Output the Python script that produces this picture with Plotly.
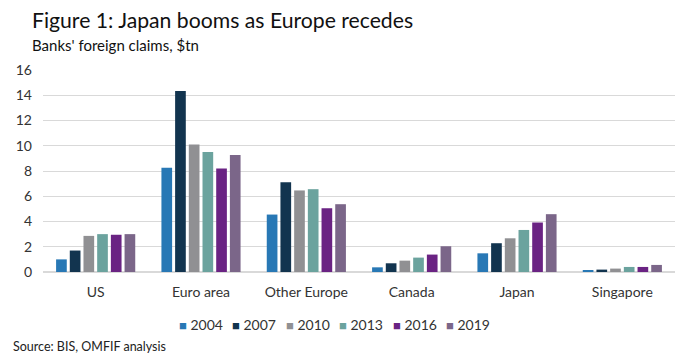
import plotly.graph_objects as go

categories = ["US", "Euro area", "Other Europe", "Canada", "Japan", "Singapore"]
years = ["2004", "2007", "2010", "2013", "2016", "2019"]
v2004 = [1.0, 8.25, 4.55, 0.37, 1.48, 0.08]
v2007 = [1.7, 14.34, 7.1, 0.69, 2.28, 0.19]
v2010 = [2.86, 10.1, 6.46, 0.9, 2.67, 0.27]
v2013 = [3.0, 9.5, 6.56, 1.14, 3.33, 0.4]
v2016 = [2.95, 8.2, 5.05, 1.38, 3.92, 0.4]
v2019 = [3.0, 9.26, 5.37, 2.04, 4.58, 0.56]
series = [v2004, v2007, v2010, v2013, v2016, v2019]
colors = ["#2878b5", "#12344f", "#909093", "#6ba39e", "#6a2383", "#7b6689"]
yticks = [0, 2, 4, 6, 8, 10, 12, 14, 16]

FONT = "Lato"
TXT = "#333333"
fig = go.Figure()
for yr, vals, c in zip(years, series, colors):
    fig.add_trace(go.Bar(name=yr, x=categories, y=vals, marker_color=c,
                         marker_line_width=0, showlegend=False))

W, H = 692, 361
L, R, T, B = 43, 17, 70, 89
pw, ph = W - L - R, H - T - B

def px(x):
    return (x - L) / pw

def py(y):
    return (H - B - y) / ph

annotations = [
    dict(text="Figure 1: Japan booms as Europe recedes", xref="paper", yref="paper",
         x=px(30), y=py(20), xanchor="left", yanchor="middle", showarrow=False,
         font=dict(family=FONT, size=21.2, color="#111111")),
    dict(text="Banks' foreign claims, $tn", xref="paper", yref="paper", x=px(30), y=py(45),
         xanchor="left", yanchor="middle", showarrow=False,
         font=dict(family=FONT, size=15, color="#111111")),
    dict(text="Source: BIS, OMFIF analysis", xref="paper", yref="paper", x=px(11), y=py(346),
         xanchor="left", yanchor="middle", showarrow=False,
         font=dict(family=FONT, size=12.5, color="#222222")),
]
# legend built as text items
for i, (yr, c) in enumerate(zip(years, colors)):
    annotations.append(dict(
        text=f"<span style='color:{c};font-size:13px'>■</span> {yr}",
        xref="paper", yref="paper", x=px(177 + i * 53.4), y=py(324),
        xanchor="left", yanchor="middle", showarrow=False,
        font=dict(family=FONT, size=14, color=TXT)))

fig.update_layout(
    width=W, height=H,
    margin=dict(l=L, r=R, t=T, b=B, autoexpand=False),
    paper_bgcolor="white", plot_bgcolor="white",
    barmode="group", bargap=0.22, bargroupgap=0.22,
    font=dict(family=FONT, color=TXT, size=14),
    showlegend=False,
    xaxis=dict(showgrid=False, showline=False, ticks="", tickfont=dict(size=14, color=TXT),
               ticklabelstandoff=10),
    yaxis=dict(range=[0, 16], tickvals=yticks, showgrid=True, gridcolor="#d9d9d9", gridwidth=1,
               zeroline=True, zerolinecolor="#d9d9d9", showline=False, ticks="",
               tickfont=dict(size=14, color=TXT), ticklabelstandoff=10),
    annotations=annotations,
)

fig.write_html("out.html", config={"displayModeBar": False},
               post_script="document.body.style.margin='0';")
